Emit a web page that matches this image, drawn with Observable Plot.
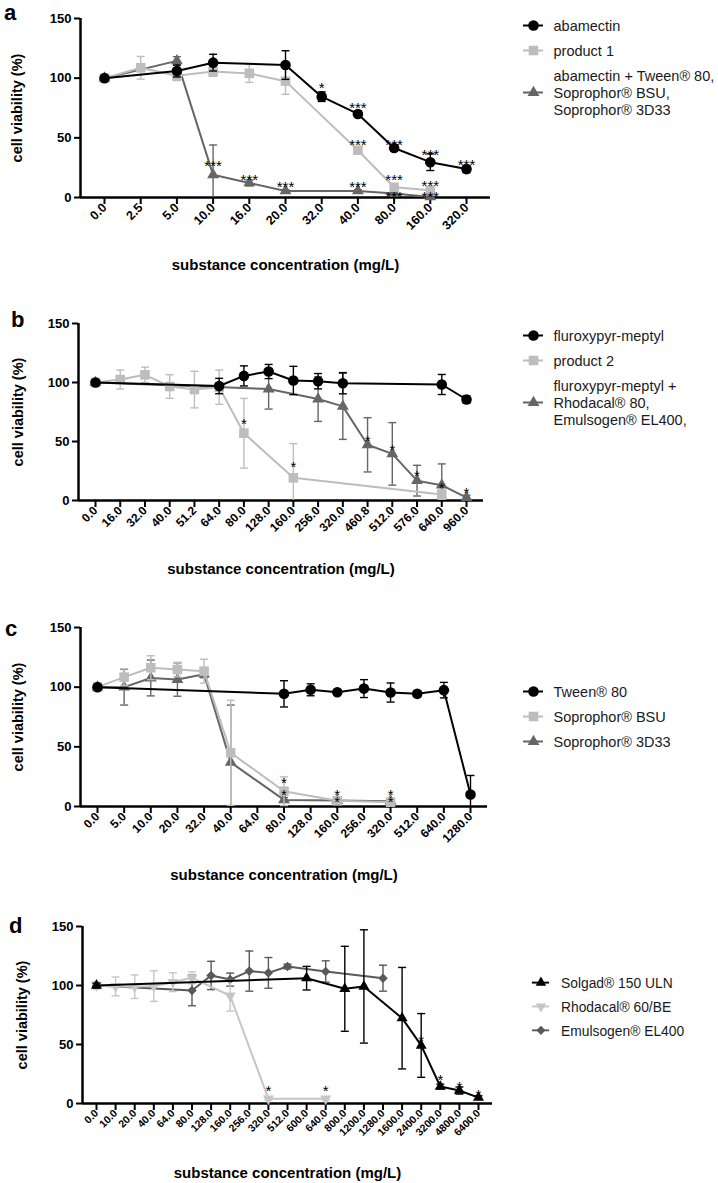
<!DOCTYPE html>
<html><head><meta charset="utf-8">
<script src="https://cdn.jsdelivr.net/npm/d3@7"></script>
<script src="https://cdn.jsdelivr.net/npm/@observablehq/plot@0.6"></script>
<style>
body{margin:0;background:#fff;}
#root{position:relative;width:718px;height:1183px;overflow:hidden;font-family:"Liberation Sans",Arial,Helvetica,sans-serif;}
.abs{position:absolute;}
.letter{position:absolute;font-weight:bold;font-size:22px;line-height:1;color:#000;}
</style></head><body><div id="root"></div>
<script>
// ---------------- DATA ----------------
// Panel a
const aTicks = ["0.0","2.5","5.0","10.0","16.0","20.0","32.0","40.0","80.0","160.0","320.0"];
const aNames = ["abamectin","product 1","abamectin + Tween® 80,\nSoprophor® BSU,\nSoprophor® 3D33"];
const aConc1 = ["0.0","5.0","10.0","20.0","32.0","40.0","80.0","160.0","320.0"];
const aMean1 = [100,106,113,111,84.5,70,41.5,29.6,23.8];
const aSd1   = [1,5,7,12,4,2.5,2.5,7,3];
const aConc2 = ["0.0","2.5","5.0","10.0","16.0","20.0","40.0","80.0","160.0"];
const aMean2 = [100,108.7,102,105.5,104,97.5,39.6,8.6,6];
const aSd2   = [1.5,9.5,4,4,7.5,11,2,2.5,3];
const aConc3 = ["0.0","5.0","10.0","16.0","20.0","40.0","80.0","160.0"];
const aMean3 = [100,114.5,19,12.2,5.5,5.5,3.3,0.5];
const aSd3   = [1,3.5,25,2.5,1,1,1,0.5];
const aStarConc = ["32.0","40.0","40.0","40.0","80.0","80.0","80.0","10.0","16.0","20.0","160.0","160.0","160.0","320.0"];
const aStarY    = [94.7,78,47,11.7,47,17.6,3.4,29.3,17.6,11.7,38.6,12.6,3.4,30.4];
const aStarText = ["*","***","***","***","***","***","***","***","***","***","***","***","***","***"];

// Panel b
const bTicks = ["0.0","16.0","32.0","40.0","51.2","64.0","80.0","128.0","160.0","256.0","320.0","460.8","512.0","576.0","640.0","960.0"];
const bNames = ["fluroxypyr-meptyl","product 2","fluroxypyr-meptyl +\nRhodacal® 80,\nEmulsogen® EL400,"];
const bConc1 = ["0.0","64.0","80.0","128.0","160.0","256.0","320.0","640.0","960.0"];
const bMean1 = [100,97,105.6,109.3,101.7,101.1,99.4,98.3,85.6];
const bSd1   = [1.5,6.5,8.5,6,12,6.5,9,8.5,3];
const bConc2 = ["0.0","16.0","32.0","40.0","51.2","64.0","80.0","160.0","640.0"];
const bMean2 = [100,102.5,106.5,96.6,94,96,57,19.2,5];
const bSd2   = [1.5,8,6.5,10,15.5,14.5,29.5,29,4];
const bConc3 = ["0.0","128.0","256.0","320.0","460.8","512.0","576.0","640.0","960.0"];
const bMean3 = [100,94.5,86,79.8,47.2,39.5,16.8,13,2.5];
const bSd3   = [1,17,19,28,23,26.5,13,18,2];
const bStarConc = ["80.0","160.0","460.8","512.0","576.0","640.0","960.0"];
const bStarY    = [67.8,31.1,53.6,45.8,24,13.6,9.3];
const bStarText = ["*","*","*","*","*","*","*"];

// Panel c
const cTicks = ["0.0","5.0","10.0","20.0","32.0","40.0","64.0","80.0","128.0","160.0","256.0","320.0","512.0","640.0","1280.0"];
const cNames = ["Tween® 80","Soprophor® BSU","Soprophor® 3D33"];
const cConc1 = ["0.0","80.0","128.0","160.0","256.0","320.0","512.0","640.0","1280.0"];
const cMean1 = [100,94.4,97.8,95.8,98.8,95.5,94.4,97.5,10];
const cSd1   = [1.5,11,5,1.5,7.5,8,2.5,6.5,16];
const cConc2 = ["0.0","5.0","10.0","20.0","32.0","40.0","80.0","160.0","320.0"];
const cMean2 = [100,108.4,116.3,114.8,113.4,45,12.8,4.8,3.6];
const cSd2   = [1.5,7,10,6,10,44,12,1,1];
const cConc3 = ["0.0","5.0","10.0","20.0","32.0","40.0","80.0","160.0","320.0"];
const cMean3 = [100,100,107.7,106.4,110.9,37,5.5,5,4.5];
const cSd3   = [1,15,15,14,3,48,2,1,1];
const cStarConc = ["80.0","80.0","160.0","160.0","320.0","320.0"];
const cStarY    = [22.4,12.8,12.6,6.5,12.6,6.5];
const cStarText = ["*","*","*","*","*","*"];

// Panel d
const dTicks = ["0.0","10.0","20.0","40.0","64.0","80.0","128.0","160.0","256.0","320.0","512.0","600.0","640.0","800.0","1200.0","1280.0","1600.0","2400.0","3200.0","4800.0","6400.0"];
const dNames = ["Solgad® 150 ULN","Rhodacal® 60/BE","Emulsogen® EL400"];
const dConc1 = ["0.0","600.0","800.0","1200.0","1600.0","2400.0","3200.0","4800.0","6400.0"];
const dMean1 = [100,106.2,97.2,99.2,72.3,49.2,14.4,11,5];
const dSd1   = [2,10,36,48,43,27,2,3,1.5];
const dConc2 = ["0.0","10.0","20.0","40.0","64.0","80.0","160.0","320.0","640.0"];
const dMean2 = [100,99.2,99,99.5,102.8,106.5,91.3,4,4];
const dSd2   = [3,8,10,13,8,5,13,1,1];
const dConc3 = ["0.0","80.0","128.0","160.0","256.0","320.0","512.0","640.0","1280.0"];
const dMean3 = [100,95.8,108.5,105,112.2,110.7,116.1,111.9,106.2];
const dSd3   = [1.5,13,12,5.5,17,13,2,9,11];
const dStarConc = ["320.0","640.0","2400.0","3200.0","4800.0","6400.0"];
const dStarY    = [13.3,13.3,56.2,22.9,17,10];
const dStarText = ["*","*","*","*","*","*"];

const yTicks = [0,50,100,150];
const xTitle = "substance concentration (mg/L)";
const yTitle = "cell viability (%)";

// ---------------- STYLE ----------------
const FONT = "'Liberation Sans', Arial, Helvetica, sans-serif";
const BLACK = "#000000", LIGHT = "#bdbdbd", DARK = "#666666", LIGHT_D = "#c6c6c6", DARK_D = "#595959";
const sqrt3 = Math.sqrt(3);
const capSymbol = {draw(ctx, size){const w = Math.sqrt(size / Math.PI); ctx.moveTo(-w, 0); ctx.lineTo(w, 0);}};
const triangleDown = {draw(ctx, size){const y = -Math.sqrt(size / (sqrt3 * 3)); ctx.moveTo(0, -y * 2); ctx.lineTo(-sqrt3 * y, y); ctx.lineTo(sqrt3 * y, y); ctx.closePath();}};

function series(conc, mean, sd, color, symbol, r) { return {conc, mean, sd, color, symbol, r}; }

const panels = [
  {top: 0, height: 290, y150: 18, y0: 197, axisPx: 80, firstPx: 104, lastPx: 466, ticks: aTicks, tickFs: 12.5,
   titleDy: 68, yTitleX: 17, letter: "a", letterPos: [4, 2],
   series: [series(aConc1, aMean1, aSd1, BLACK, "circle", 5.3), series(aConc2, aMean2, aSd2, LIGHT, "square", 5.4), series(aConc3, aMean3, aSd3, DARK, "triangle", 4.4)],
   names: aNames, stars: [aStarConc, aStarY, aStarText], starFs: 15,
   legend: {left: 520, y0: 25, x1: 3, x2: 23, tx: 33}},
  {top: 290, height: 290, y150: 323, y0: 500, axisPx: 78, firstPx: 95, lastPx: 466, ticks: bTicks, tickFs: 12,
   titleDy: 69, yTitleX: 18, letter: "b", letterPos: [11, 308.5],
   series: [series(bConc1, bMean1, bSd1, BLACK, "circle", 5.3), series(bConc2, bMean2, bSd2, LIGHT, "square", 5.4), series(bConc3, bMean3, bSd3, DARK, "triangle", 4.4)],
   names: bNames, stars: [bStarConc, bStarY, bStarText], starFs: 15,
   legend: {left: 520, y0: 45, x1: 3, x2: 23, tx: 33}},
  {top: 580, height: 300, y150: 627, y0: 806, axisPx: 80, firstPx: 97, lastPx: 470, ticks: cTicks, tickFs: 12,
   titleDy: 69, yTitleX: 18, letter: "c", letterPos: [5, 617.5],
   series: [series(cConc1, cMean1, cSd1, BLACK, "circle", 5.3), series(cConc2, cMean2, cSd2, LIGHT, "square", 5.4), series(cConc3, cMean3, cSd3, DARK, "triangle", 4.4)],
   names: cNames, stars: [cStarConc, cStarY, cStarText], starFs: 15,
   legend: {left: 520, y0: 111, x1: 3, x2: 23, tx: 33}},
  {top: 880, height: 303, y150: 926, y0: 1103, axisPx: 82, firstPx: 96, lastPx: 478, ticks: dTicks, tickFs: 10.5,
   titleDy: 70, yTitleX: 22, letter: "d", letterPos: [9, 914.5],
   series: [series(dConc1, dMean1, dSd1, BLACK, "triangle", 4.1), series(dConc2, dMean2, dSd2, LIGHT_D, triangleDown, 4.1), series(dConc3, dMean3, dSd3, DARK_D, "diamond2", 4.3)],
   names: dNames, stars: [dStarConc, dStarY, dStarText], starFs: 15,
   legend: {left: 529, y0: 107, x1: 3, x2: 21, tx: 33}}
];

function panelPlot(p) {
  const n = p.ticks.length;
  const step = (p.lastPx - p.firstPx) / (n - 1);
  const pad = (p.firstPx - p.axisPx) / step;
  const rightPx = p.lastPx + pad * step;
  const marginTop = p.y150 - p.top;
  const marginBottom = p.height - (p.y0 - p.top);
  const idx = c => p.ticks.indexOf(c);
  const marks = [
    Plot.axisY(yTicks, {tickSize: 6, strokeWidth: 2, fontSize: 13, fontWeight: "bold", tickPadding: 3, label: null, fill: "#000"}),
    Plot.axisX(d3.range(n), {tickSize: 7, strokeWidth: 2, fontSize: p.tickFs, fontWeight: "bold", tickPadding: 1, tickRotate: -45, tickFormat: i => p.ticks[i], label: null, fill: "#000"}),
    Plot.ruleY([0], {strokeWidth: 2.5}),
    Plot.ruleX([-pad], {y1: 0, y2: 150, strokeWidth: 2.5})
  ];
  [...p.series].reverse().forEach(s => {
    const rows = s.conc.map((c, k) => ({i: idx(c), m: s.mean[k], sd: s.sd[k]}));
    marks.push(
      Plot.ruleX(rows, {x: "i", y1: d => Math.max(0, d.m - d.sd), y2: d => d.m + d.sd, stroke: s.color, strokeWidth: 1.4}),
      Plot.dot(rows, {x: "i", y: d => d.m + d.sd, symbol: capSymbol, r: 4, stroke: s.color, strokeWidth: 1.4}),
      Plot.dot(rows.filter(d => d.m - d.sd > 0.5), {x: "i", y: d => d.m - d.sd, symbol: capSymbol, r: 4, stroke: s.color, strokeWidth: 1.4}),
      Plot.line(rows, {x: "i", y: "m", stroke: s.color, strokeWidth: 2}),
      Plot.dot(rows, {x: "i", y: "m", symbol: s.symbol, r: s.r, fill: s.color, stroke: "none"})
    );
  });
  const [sc, sy, st] = p.stars;
  const starRows = sc.map((c, k) => ({i: idx(c), y: sy[k], t: st[k]}));
  marks.push(Plot.text(starRows, {x: "i", y: "y", text: "t", fontSize: p.starFs, dy: 3.8, lineAnchor: "middle", fill: "#000"}));
  marks.push(Plot.text([xTitle], {text: d => d, frameAnchor: "bottom", lineAnchor: "middle", textAnchor: "middle", dy: p.titleDy, fontSize: 15, fontWeight: "bold", fill: "#000"}));
  marks.push(Plot.text([yTitle], {text: d => d, frameAnchor: "left", rotate: -90, lineAnchor: "middle", textAnchor: "middle", dx: p.yTitleX - p.axisPx, fontSize: 14.5, fontWeight: "bold", fill: "#000"}));
  return Plot.plot({
    width: 718, height: p.height,
    marginLeft: p.axisPx, marginRight: 718 - rightPx, marginTop, marginBottom,
    x: {domain: [-pad, n - 1 + pad]},
    y: {domain: [0, 150]},
    style: {fontFamily: FONT, background: "transparent", overflow: "visible", color: "#000"},
    marks
  });
}

function legendPlot(p) {
  const L = p.legend;
  const rows = [];
  let c = L.y0, prevLines = 1;
  p.names.forEach((label, k) => {
    const lines = label.split("\n").length;
    if (k > 0) c += 25 + (prevLines - 1) * 8.5 + (lines - 1) * 8.5;
    const s = p.series[k];
    rows.push({label, y: c, color: s.color, symbol: s.symbol, r: s.r});
    prevLines = lines;
  });
  const W = 198, H = p.height;
  const marks = [];
  rows.forEach(r => {
    marks.push(Plot.ruleY([r.y], {x1: L.x1, x2: L.x2, stroke: r.color, strokeWidth: 2}));
    marks.push(Plot.dot([r.y], {x: (L.x1 + L.x2) / 2, y: d => d, symbol: r.symbol, r: r.r, fill: r.color, stroke: "none"}));
  });
  marks.push(Plot.text(rows, {x: L.tx, y: "y", text: "label", textAnchor: "start", lineAnchor: "middle", fontSize: 14.5, lineHeight: 17 / 14.5, fill: "#1a1a1a"}));
  return Plot.plot({
    width: W, height: H, margin: 0,
    x: {domain: [0, W], range: [0, W], axis: null},
    y: {domain: [0, H], range: [0, H], axis: null},
    style: {fontFamily: FONT, background: "transparent", overflow: "visible"},
    marks
  });
}

const root = document.getElementById("root");
panels.forEach(p => {
  const wrap = document.createElement("div");
  wrap.className = "abs"; wrap.style.left = "0px"; wrap.style.top = p.top + "px";
  wrap.appendChild(panelPlot(p));
  root.appendChild(wrap);
  const lw = document.createElement("div");
  lw.className = "abs"; lw.style.left = p.legend.left + "px"; lw.style.top = p.top + "px";
  lw.appendChild(legendPlot(p));
  root.appendChild(lw);
  const letter = document.createElement("div");
  letter.className = "letter"; letter.textContent = p.letter;
  letter.style.left = p.letterPos[0] + "px"; letter.style.top = p.letterPos[1] + "px";
  root.appendChild(letter);
});
</script></body></html>
